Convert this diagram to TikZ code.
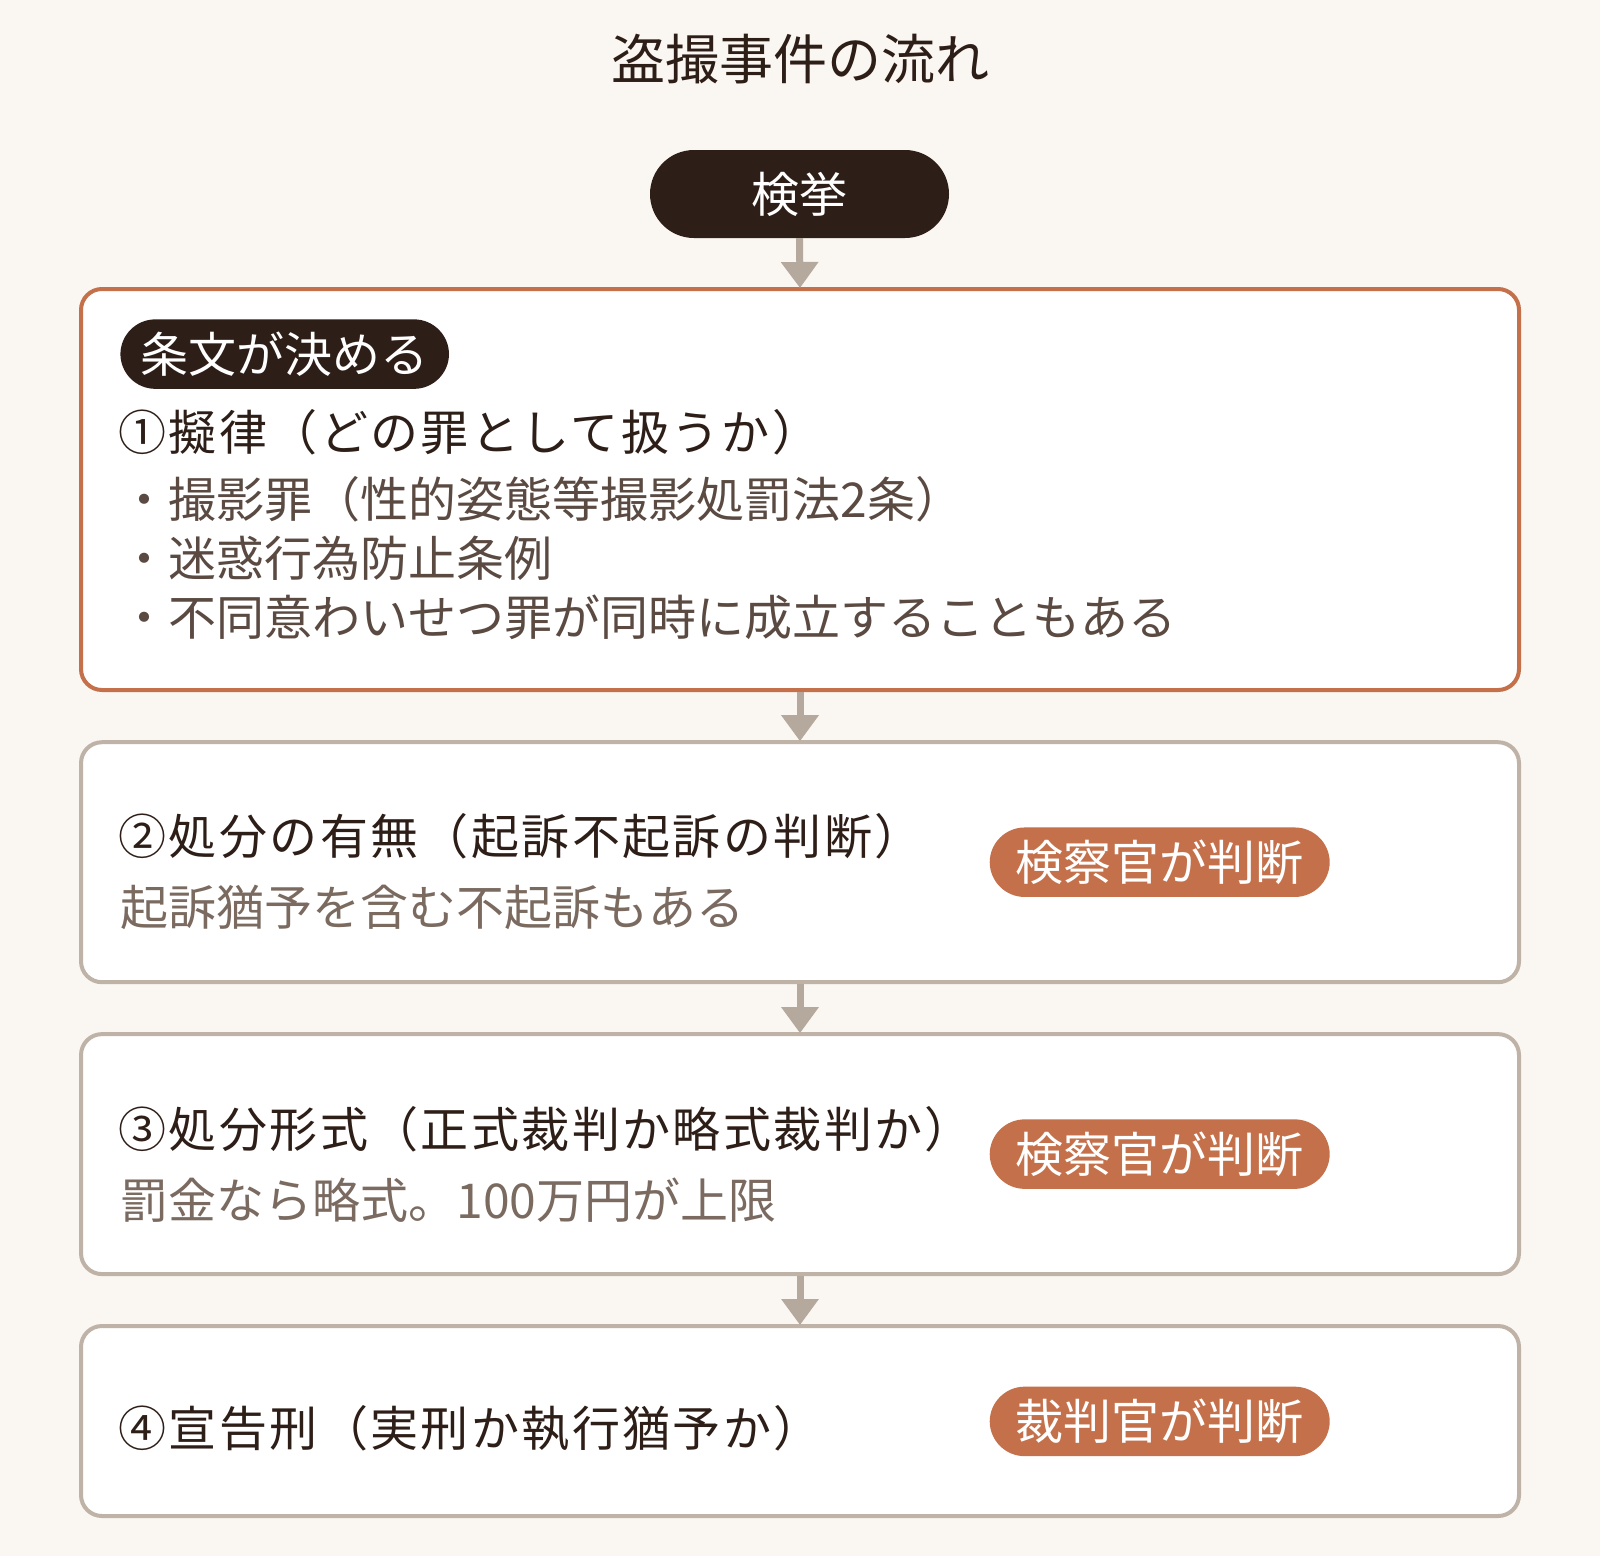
\documentclass[tikz,border=0pt]{standalone}
\usepackage{fontspec}
\newfontfamily\jp{Noto Sans CJK JP}
\newfontfamily\jph[LetterSpace=5]{Noto Sans CJK JP}
\usetikzlibrary{arrows.meta}
\definecolor{bg}{HTML}{FAF6F1}
\definecolor{dark}{HTML}{2E1E18}
\definecolor{accent}{HTML}{C4714B}
\definecolor{frame}{HTML}{BFB3A8}
\definecolor{arrowc}{HTML}{B5A89C}
\definecolor{bodyc}{HTML}{5A4A42}
\definecolor{subc}{HTML}{7A6A60}
\tikzset{
  txt/.style={font=\jp\fontsize{48}{58}\selectfont, inner sep=0pt, anchor=west},
  headt/.style={txt, font=\jph\fontsize{48}{58}\selectfont, text=dark},
  bullt/.style={txt, text=bodyc},
  subt/.style={txt, text=subc},
  stepbox/.style={draw=frame, line width=4pt, fill=white, rounded corners=21pt, minimum width=1438pt, inner sep=0pt},
  mainbox/.style={stepbox, draw=accent},
  darkpill/.style={fill=dark, text=white, rounded corners=35pt, font=\jp\fontsize{48}{58}\selectfont, inner sep=0pt, minimum height=69.5pt},
  tagpill/.style={fill=accent, text=white, rounded corners=35pt, font=\jp\fontsize{48}{58}\selectfont, inner sep=0pt, minimum height=69.5pt, minimum width=340pt},
  arr/.style={draw=arrowc, line width=7pt, -{Triangle[width=36pt,length=26pt]}, shorten >=-1pt},
}
\begin{document}
\begin{tikzpicture}[x=1pt,y=-1pt]
\useasboundingbox (0,0) rectangle (1600,1556);
\fill[bg] (0,0) rectangle (1600,1556);

\node[font=\jp\fontsize{54}{64}\selectfont, text=dark, inner sep=0pt] (title) at (800,59) {盗撮事件の流れ};

\node[darkpill, rounded corners=44pt, minimum width=299pt, minimum height=88pt] (start) at (799.5,194) {検挙};

% boxes
\node[mainbox, minimum height=401pt] (b1) at (800,489.5) {};
\node[stepbox, minimum height=240pt] (b2) at (800,862.2) {};
\node[stepbox, minimum height=240pt] (b3) at (800,1154.1) {};
\node[stepbox, minimum height=190pt] (b4) at (800,1421) {};

% box 1
\node[darkpill, minimum width=328.6pt] (tag1) at (284.7,354.1) {条文が決める};
\node[headt] (h1) at (118.4,432.7) {①擬律（どの罪として扱うか）};
\node[bullt] (l1) at (120.4,499) {・撮影罪（性的姿態等撮影処罰法2条）};
\node[bullt] (l2) at (120.4,558.2) {・迷惑行為防止条例};
\node[bullt] (l3) at (120.4,617.3) {・不同意わいせつ罪が同時に成立することもある};

% box 2
\node[headt] (h2) at (118.4,836.7) {②処分の有無（起訴不起訴の判断）};
\node[subt] (s2) at (120.4,907.1) {起訴猶予を含む不起訴もある};
\node[tagpill] (t2) at (1159.7,862.2) {検察官が判断};

% box 3
\node[headt] (h3) at (118.4,1129.6) {③処分形式（正式裁判か略式裁判か）};
\node[subt] (s3) at (120.4,1200) {罰金なら略式。100万円が上限};
\node[tagpill] (t3) at (1159.7,1154.1) {検察官が判断};

% box 4
\node[headt] (h4) at (118.4,1428.6) {④宣告刑（実刑か執行猶予か）};
\node[tagpill] (t4) at (1159.7,1421.4) {裁判官が判断};

% arrows
\draw[arr] (start.south) -- (b1.north);
\draw[arr] (b1.south) -- (b2.north);
\draw[arr] (b2.south) -- (b3.north);
\draw[arr] (b3.south) -- (b4.north);
\end{tikzpicture}
\end{document}
